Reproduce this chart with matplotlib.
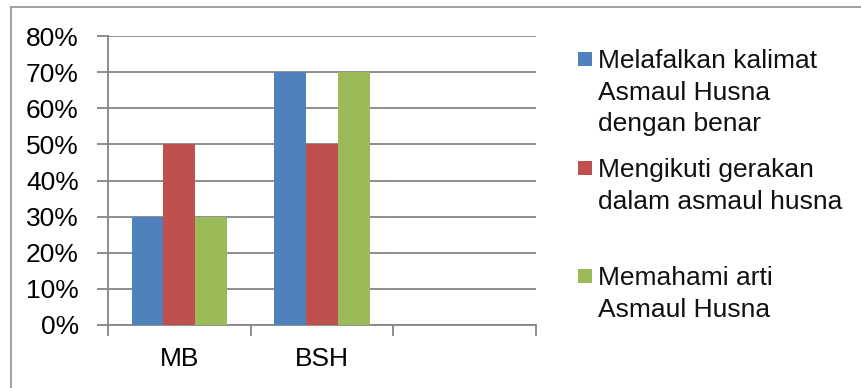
import matplotlib
matplotlib.use("Agg")
import matplotlib.pyplot as plt
from matplotlib.lines import Line2D
from matplotlib.patches import Rectangle
import numpy as np

plt.rcParams['font.family'] = ['Liberation Sans', 'DejaVu Sans']

categories = ["MB", "BSH", ""]
series_names = [
    "Melafalkan kalimat\nAsmaul Husna\ndengan benar",
    "Mengikuti gerakan\ndalam asmaul husna",
    "Memahami arti\nAsmaul Husna",
]
values = [
    [0.30, 0.70, None],
    [0.50, 0.50, None],
    [0.30, 0.70, None],
]
colors = ["#4F81BD", "#C0504D", "#9BBB59"]
y_ticks = [0.0, 0.1, 0.2, 0.3, 0.4, 0.5, 0.6, 0.7, 0.8]

W, H = 861, 388
DPI = 100
fig = plt.figure(figsize=(W / DPI, H / DPI), dpi=DPI)

# plot area in pixel units
x0, x1, ytop, ybot = 108, 536, 36, 325
ax = fig.add_axes([x0 / W, 1 - ybot / H, (x1 - x0) / W, (ybot - ytop) / H])

grid_c = "#868686"
fs = 19
n_cat = len(categories)
n_ser = len(series_names)
bar_w = 0.222
centers = np.arange(n_cat) + 0.5
for i, (vals, c) in enumerate(zip(values, colors)):
    xs = [ctr + (i - (n_ser - 1) / 2) * bar_w for ctr, v in zip(centers, vals) if v is not None]
    hs = [v for v in vals if v is not None]
    ax.bar(xs, hs, width=bar_w, color=c, linewidth=0, zorder=3)

ax.set_xlim(0, n_cat)
ax.set_ylim(0, 0.8)
ax.set_yticks(y_ticks)
ax.set_yticklabels([f"{int(round(t * 100))}%" for t in y_ticks], fontsize=fs)
ax.yaxis.grid(True, color=grid_c, linewidth=1.3, zorder=1)
ax.set_axisbelow(True)

# category boundary ticks, labels centred in each slot
ax.set_xticks(np.arange(n_cat + 1))
ax.set_xticklabels([])
ax.set_xticks(centers, minor=True)
ax.set_xticklabels(categories, minor=True, fontsize=fs)
ax.tick_params(axis='x', which='minor', length=0, pad=16)
ax.tick_params(axis='x', which='major', length=8, width=1.3, color=grid_c)
ax.tick_params(axis='y', length=8, width=1.3, color=grid_c, pad=13)

for s in ["top", "right"]:
    ax.spines[s].set_visible(False)
for s in ["left", "bottom"]:
    ax.spines[s].set_color(grid_c)
    ax.spines[s].set_linewidth(1.3)

# legend drawn in pixel space
def px(x, y):
    return x / W, 1 - y / H

first_baselines = [68, 177, 285]
line_step = 31.7
for name, c, yb in zip(series_names, colors, first_baselines):
    sx, sy = px(578, yb - 2)
    fig.patches.append(Rectangle((sx, sy), 14 / W, 14 / H, transform=fig.transFigure,
                                 facecolor=c, edgecolor='none'))
    for k, line in enumerate(name.split("\n")):
        tx, ty = px(598, yb + k * line_step)
        fig.text(tx, ty, line, fontsize=fs, va='baseline', ha='left', color="#111111")

# chart frame (left and top edges)
bc = "#9a9a9a"
fig.add_artist(Line2D([11 / W, 11 / W], [1 - 6.5 / H, 0], transform=fig.transFigure,
                      color=bc, linewidth=1.3))
fig.add_artist(Line2D([11 / W, 1], [1 - 6.5 / H, 1 - 6.5 / H], transform=fig.transFigure,
                      color=bc, linewidth=1.3))

fig.savefig("out.png", dpi=DPI)
